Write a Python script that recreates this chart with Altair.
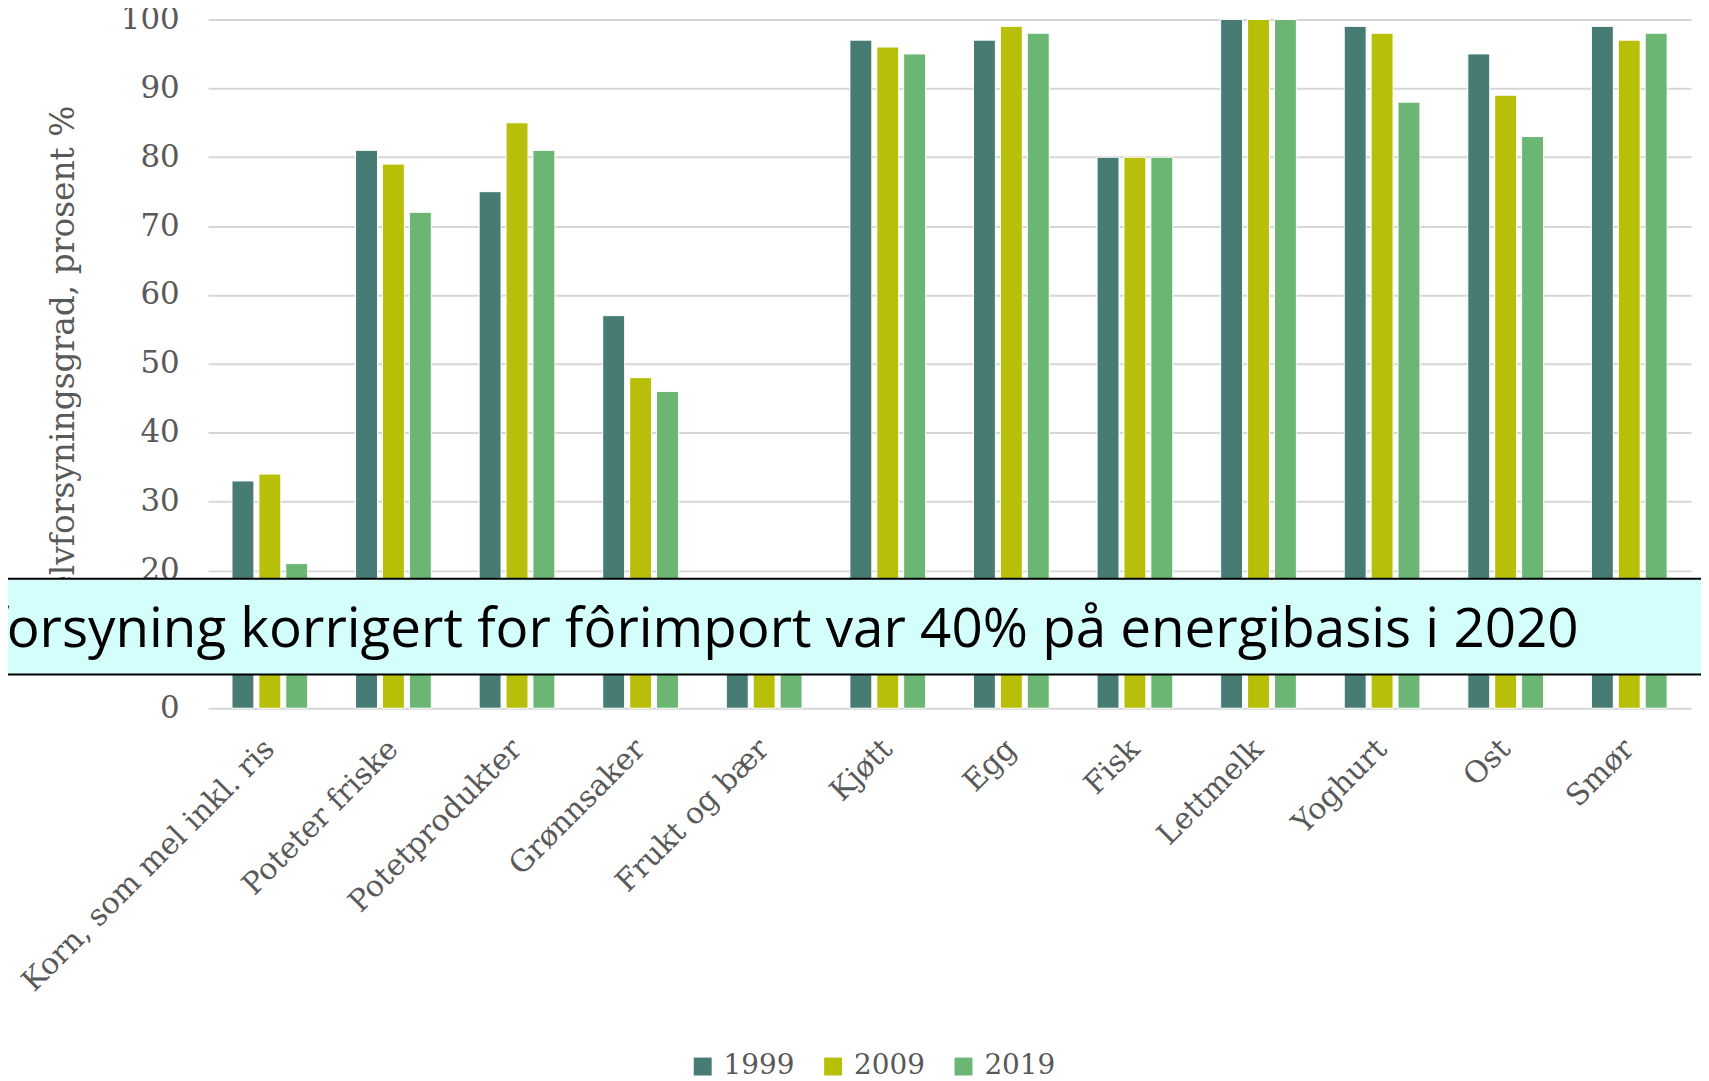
import altair as alt
import pandas as pd

categories = ["Korn, som mel inkl. ris", "Poteter friske", "Potetprodukter", "Grønnsaker",
              "Frukt og bær", "Kjøtt", "Egg", "Fisk", "Lettmelk", "Yoghurt", "Ost", "Smør"]
years = ["1999", "2009", "2019"]
v1999 = [33, 81, 75, 57, 7, 97, 97, 80, 100, 99, 95, 99]
v2009 = [34, 79, 85, 48, 5, 96, 99, 80, 100, 98, 89, 97]
v2019 = [21, 72, 81, 46, 6, 95, 98, 80, 100, 88, 83, 98]
colors = ["#467C73", "#B8BF08", "#6AB672"]
y_title = "Selvforsyningsgrad, prosent %"
banner_text = "Selvforsyning korrigert for fôrimport var 40% på energibasis i 2020"

rows = []
for yr, vals in zip(years, [v1999, v2009, v2019]):
    for c, v in zip(categories, vals):
        rows.append({"kategori": c, "år": yr, "verdi": v})
df = pd.DataFrame(rows)

W, H = 1490, 692
serif = "DejaVu Serif"
grey = "#595959"

bars = alt.Chart(df).mark_bar(stroke="#ffffff", strokeWidth=1).encode(
    x=alt.X("kategori:N", sort=categories,
            scale=alt.Scale(paddingInner=0.347, paddingOuter=0.1735),
            axis=alt.Axis(title=None, labelAngle=-45, labelAlign="right", labelBaseline="middle",
                          labelPadding=36, ticks=False, domain=False, grid=False,
                          labelFont=serif, labelFontSize=30, labelColor=grey, labelLimit=600)),
    xOffset=alt.XOffset("år:N", sort=years,
                        scale=alt.Scale(paddingInner=0.185, paddingOuter=0.0925)),
    y=alt.Y("verdi:Q", scale=alt.Scale(domain=[0, 100], nice=False),
            axis=alt.Axis(values=list(range(0, 101, 10)), title=y_title, ticks=False, domain=False,
                          gridColor="#D6D6D6", gridWidth=2,
                          labelFont=serif, labelFontSize=31, labelColor=grey, labelPadding=29,
                          titleFont=serif, titleFontSize=33, titleColor=grey, titleFontWeight="normal",
                          titleAngle=-90, titleX=-145, titleY=H / 2 - 3, titleAlign="center",
                          titleBaseline="middle")),
    color=alt.Color("år:N", sort=years, scale=alt.Scale(domain=years, range=colors),
                    legend=alt.Legend(orient="none", legendX=483, legendY=1038, direction="horizontal",
                                      title=None, symbolType="square", symbolSize=324,
                                      symbolStrokeWidth=0, labelFont=serif, labelFontSize=28,
                                      labelColor=grey, labelOffset=7, columnPadding=24)),
)

box = alt.Chart(alt.Data(values=[{}])).mark_rect(fill="#D4FEFB", stroke="#000000", strokeWidth=2).encode(
    x=alt.value(-215), x2=alt.value(1515), y=alt.value(562), y2=alt.value(658)
)

banner = alt.Chart(alt.Data(values=[{}])).mark_text(
    align="right", baseline="alphabetic", font="Open Sans", fontSize=55, color="#000000"
).encode(x=alt.value(1377), y=alt.value(630), text=alt.value(banner_text))

chart = alt.layer(bars, box, banner).properties(
    width=W, height=H,
    autosize=alt.AutoSizeParams(type="none"),
    padding={"left": 201, "top": 9, "right": 10, "bottom": 372},
).configure_view(stroke=None)

chart.save("out.html", embed_options={"renderer": "svg", "actions": False})
